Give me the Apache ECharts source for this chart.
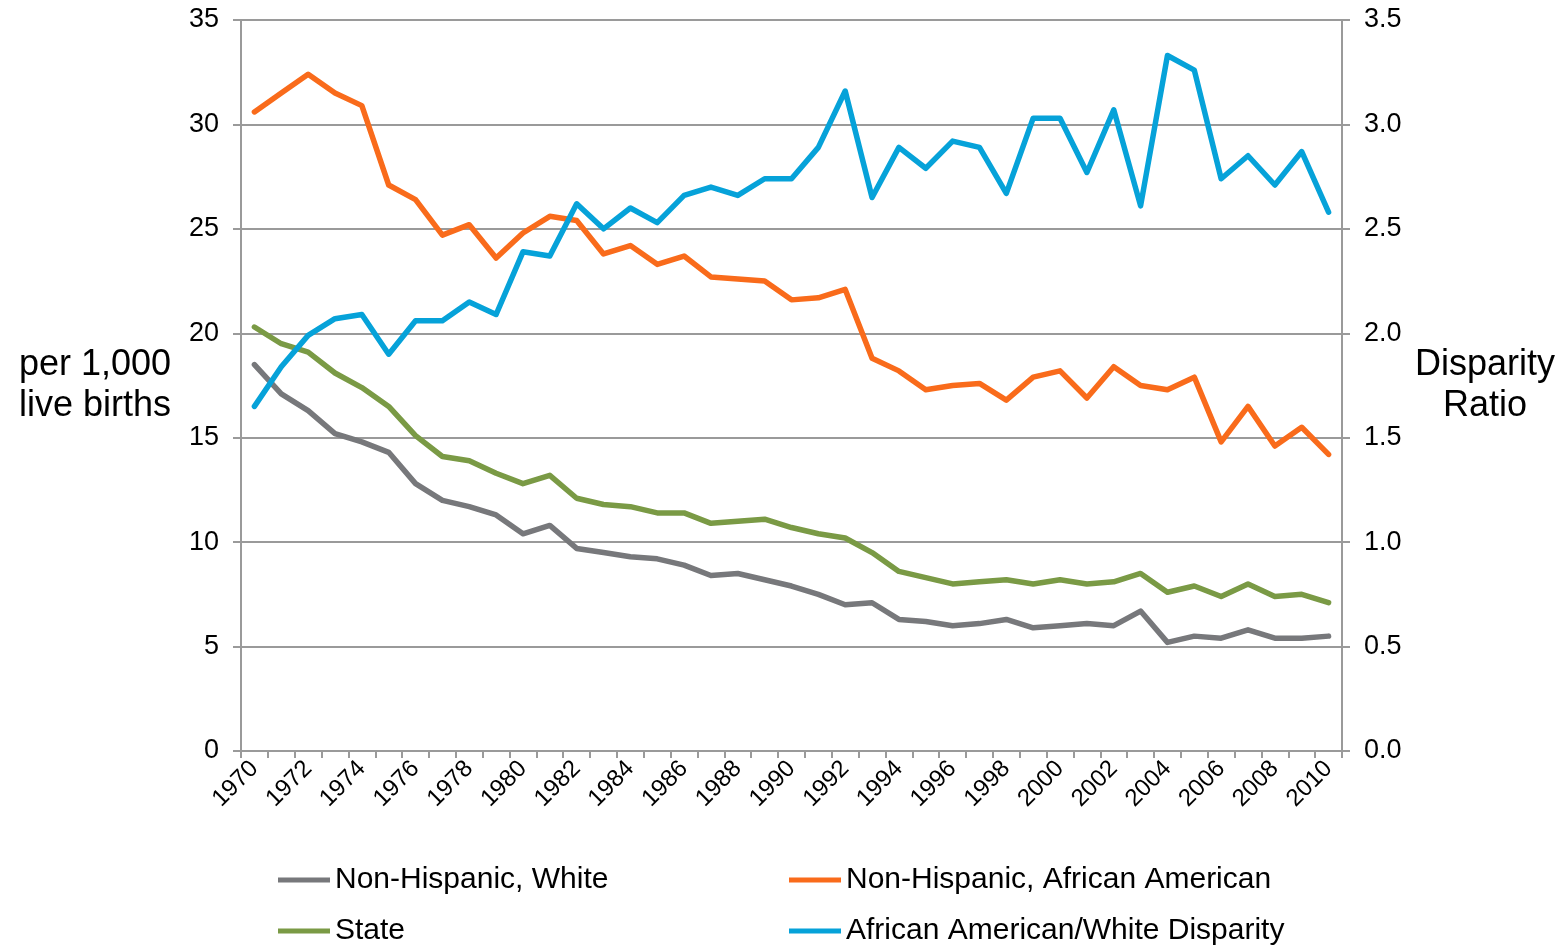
<!DOCTYPE html>
<html lang="en" style="height: 100%">
<head>
    <meta charset="UTF-8">
    <script src="https://cdn.jsdelivr.net/npm/echarts@6/dist/echarts.min.js"></script>
    <title>Infant mortality and disparity ratio</title>
</head>
<body style="height: 100%; margin: 0">
<div id="main" style="width: 1565px; height: 946px"></div>
<script>
    // years 1970 - 2010
    var years = [];
    for (var y = 1970; y <= 2010; y++) {
        years.push(String(y));
    }

    var white = [18.5, 17.1, 16.3, 15.2, 14.8, 14.3, 12.8, 12.0, 11.7, 11.3,
        10.4, 10.8, 9.7, 9.5, 9.3, 9.2, 8.9, 8.4, 8.5, 8.2,
        7.9, 7.5, 7.0, 7.1, 6.3, 6.2, 6.0, 6.1, 6.3, 5.9,
        6.0, 6.1, 6.0, 6.7, 5.2, 5.5, 5.4, 5.8, 5.4, 5.4, 5.5];

    var africanAmerican = [30.6, 31.5, 32.4, 31.5, 30.9, 27.1, 26.4, 24.7, 25.2, 23.6,
        24.8, 25.6, 25.4, 23.8, 24.2, 23.3, 23.7, 22.7, 22.6, 22.5,
        21.6, 21.7, 22.1, 18.8, 18.2, 17.3, 17.5, 17.6, 16.8, 17.9,
        18.2, 16.9, 18.4, 17.5, 17.3, 17.9, 14.8, 16.5, 14.6, 15.5, 14.2];

    var state = [20.3, 19.5, 19.1, 18.1, 17.4, 16.5, 15.1, 14.1, 13.9, 13.3,
        12.8, 13.2, 12.1, 11.8, 11.7, 11.4, 11.4, 10.9, 11.0, 11.1,
        10.7, 10.4, 10.2, 9.5, 8.6, 8.3, 8.0, 8.1, 8.2, 8.0,
        8.2, 8.0, 8.1, 8.5, 7.6, 7.9, 7.4, 8.0, 7.4, 7.5, 7.1];

    var disparity = [1.65, 1.84, 1.99, 2.07, 2.09, 1.90, 2.06, 2.06, 2.15, 2.09,
        2.39, 2.37, 2.62, 2.50, 2.60, 2.53, 2.66, 2.70, 2.66, 2.74,
        2.74, 2.89, 3.16, 2.65, 2.89, 2.79, 2.92, 2.89, 2.67, 3.03,
        3.03, 2.77, 3.07, 2.61, 3.33, 3.26, 2.74, 2.85, 2.71, 2.87, 2.58];

    var names = ['Non-Hispanic, White', 'Non-Hispanic, African American', 'State', 'African American/White Disparity'];
    var colors = ['#77787b', '#f96b1b', '#7a9a45', '#06a2d9'];

    var font = 'Liberation Sans';
    var gridColor = '#9a9a9a';

    var myChart = echarts.init(document.getElementById('main'));

    function lineSeries(idx, data, axis) {
        return {
            name: names[idx],
            type: 'line',
            yAxisIndex: axis,
            data: data,
            symbol: 'none',
            smooth: false,
            color: colors[idx],
            lineStyle: {width: 5.5, color: colors[idx], cap: 'round', join: 'round'},
            z: 3
        };
    }

    // one legend per item so the two columns line up like the original
    function legendItem(name, left, top) {
        return {
            data: [name],
            left: left,
            top: top,
            padding: 0,
            icon: 'rect',
            itemWidth: 52,
            itemHeight: 5,
            itemGap: 0,
            textStyle: {fontFamily: font, fontSize: 30, color: '#000', padding: [0, 0, 0, 0]}
        };
    }

    var option = {
        animation: false,
        backgroundColor: '#fff',
        grid: {left: 241, right: 223, top: 20, bottom: 195},
        legend: [
            legendItem(names[0], 278, 865),
            legendItem(names[2], 278, 916),
            legendItem(names[1], 789, 865),
            legendItem(names[3], 789, 916)
        ],
        xAxis: {
            type: 'category',
            data: years,
            boundaryGap: true,
            axisLine: {lineStyle: {color: gridColor, width: 2}},
            axisTick: {show: true, interval: 0, length: 7, lineStyle: {color: gridColor, width: 2}},
            axisLabel: {
                interval: 1,
                rotate: 45,
                margin: 14,
                fontFamily: font,
                fontSize: 24,
                color: '#000'
            }
        },
        yAxis: [
            {
                type: 'value',
                min: 0,
                max: 35,
                interval: 5,
                name: 'per 1,000\nlive births',
                nameLocation: 'middle',
                nameRotate: 0,
                nameGap: 146,
                nameTextStyle: {fontFamily: font, fontSize: 36, color: '#000', align: 'center', verticalAlign: 'middle', lineHeight: 41},
                axisLine: {show: true, lineStyle: {color: gridColor, width: 2}},
                axisTick: {show: true, length: 8, lineStyle: {color: gridColor, width: 2}},
                axisLabel: {margin: 22, fontFamily: font, fontSize: 27, color: '#000'},
                splitLine: {show: true, lineStyle: {color: gridColor, width: 2}}
            },
            {
                type: 'value',
                min: 0,
                max: 3.5,
                interval: 0.5,
                name: 'Disparity\nRatio',
                nameLocation: 'middle',
                nameRotate: 0,
                nameGap: 143,
                nameTextStyle: {fontFamily: font, fontSize: 36, color: '#000', align: 'center', verticalAlign: 'middle', lineHeight: 41},
                axisLine: {show: true, lineStyle: {color: gridColor, width: 2}},
                axisTick: {show: true, length: 8, lineStyle: {color: gridColor, width: 2}},
                axisLabel: {
                    margin: 22, fontFamily: font, fontSize: 27, color: '#000',
                    formatter: function (v) {
                        return v.toFixed(1);
                    }
                },
                splitLine: {show: false}
            }
        ],
        series: [
            lineSeries(0, white, 0),
            lineSeries(1, africanAmerican, 0),
            lineSeries(2, state, 0),
            lineSeries(3, disparity, 1)
        ]
    };

    myChart.setOption(option);
</script>
</body>
</html>
